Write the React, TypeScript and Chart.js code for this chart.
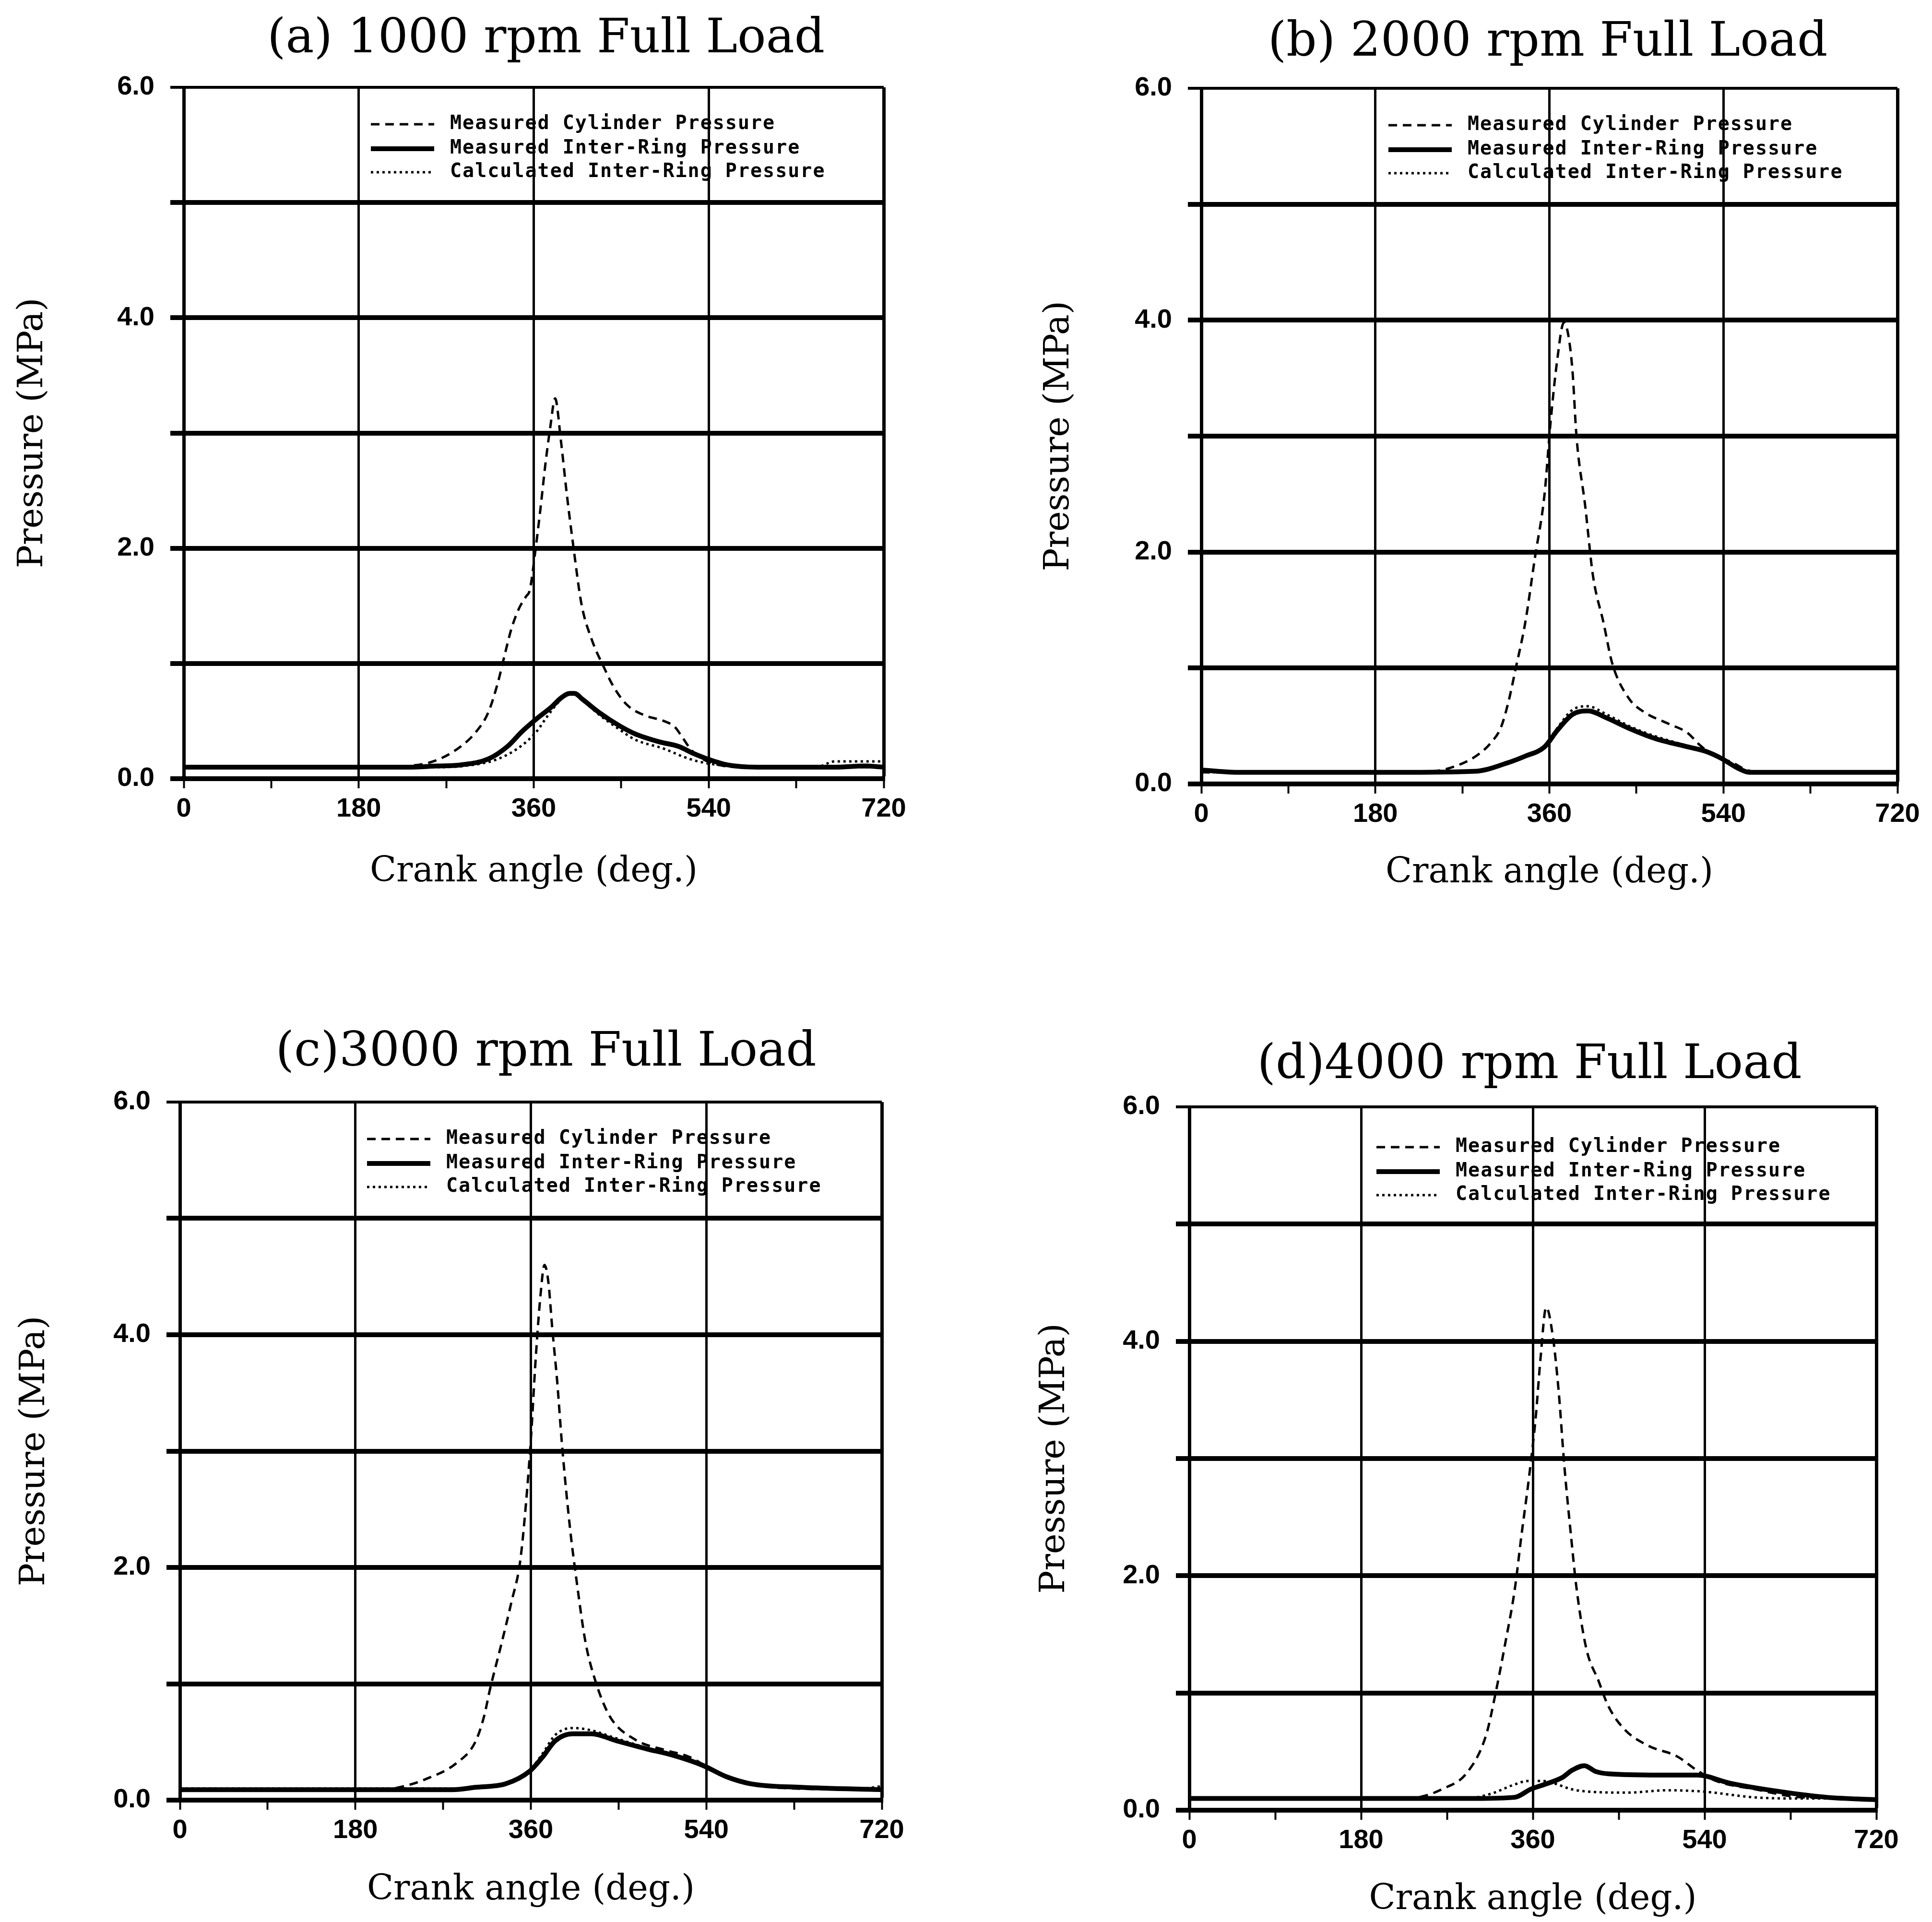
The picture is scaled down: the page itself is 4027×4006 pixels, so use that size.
import React, { useEffect, useRef } from "react";
import { Chart, registerables } from "chart.js";

Chart.register(...registerables);

// ---------------- data ----------------
const X_TICK_LABELS = [0, 180, 360, 540, 720];
const Y_TICK_LABELS = [0, 2, 4, 6];
const SERIES = [
  "Measured Cylinder Pressure",
  "Measured Inter-Ring Pressure",
  "Calculated Inter-Ring Pressure",
];
const TITLES = [
  "(a) 1000 rpm Full Load",
  "(b) 2000 rpm Full Load",
  "(c)3000 rpm Full Load",
  "(d)4000 rpm Full Load",
];
const X_TITLE = "Crank angle (deg.)";
const Y_TITLE = "Pressure (MPa)";

// [crank angle (deg), pressure (MPa)]
const cylinderA = [[0,0.1],[180,0.1],[230,0.11],[260,0.16],[285,0.28],[300,0.4],[313,0.57],[323,0.83],[330,1.07],[337,1.3],[345,1.48],[352,1.58],[356,1.64],[362,2.0],[367,2.35],[372,2.73],[377,3.05],[382,3.3],[388,2.93],[394,2.47],[401,2.0],[409,1.52],[420,1.2],[432,0.97],[442,0.8],[456,0.64],[474,0.55],[494,0.5],[505,0.45],[512,0.37],[522,0.25],[534,0.17],[550,0.12],[570,0.1],[720,0.1]];
const ringA = [[0,0.1],[230,0.1],[260,0.11],[285,0.12],[313,0.17],[333,0.28],[348,0.41],[363,0.52],[378,0.62],[388,0.7],[397,0.74],[402,0.74],[410,0.69],[428,0.57],[448,0.46],[464,0.39],[489,0.32],[509,0.28],[524,0.22],[539,0.17],[559,0.12],[590,0.1],[670,0.1],[700,0.11],[720,0.1]];
const calcA = [[0,0.1],[260,0.1],[288,0.11],[323,0.17],[348,0.29],[363,0.41],[373,0.53],[383,0.64],[392,0.72],[399,0.74],[410,0.68],[428,0.55],[446,0.44],[464,0.34],[494,0.26],[514,0.19],[529,0.15],[549,0.12],[580,0.1],[650,0.1],[670,0.15],[720,0.15]];

const cylinderB = [[0,0.1],[200,0.1],[240,0.11],[258,0.14],[284,0.24],[300,0.36],[310,0.49],[318,0.72],[325,0.99],[335,1.39],[345,1.95],[355,2.5],[361,3.1],[368,3.65],[375,3.98],[380,3.85],[384,3.55],[388,3.0],[397,2.4],[405,1.8],[416,1.39],[425,1.04],[442,0.74],[458,0.62],[483,0.52],[503,0.44],[515,0.34],[531,0.24],[548,0.19],[564,0.12],[580,0.1],[720,0.1]];
const ringB = [[0,0.12],[40,0.1],[200,0.1],[284,0.11],[316,0.18],[335,0.24],[355,0.32],[368,0.46],[384,0.6],[400,0.63],[419,0.57],[445,0.47],[470,0.39],[503,0.32],[522,0.28],[538,0.22],[554,0.14],[567,0.1],[720,0.1]];
const calcB = [[0,0.1],[284,0.11],[316,0.18],[335,0.24],[355,0.33],[368,0.48],[384,0.64],[400,0.67],[419,0.6],[445,0.49],[470,0.41],[503,0.33],[522,0.29],[538,0.22],[554,0.14],[567,0.1],[720,0.11]];

const cylinderC = [[0,0.08],[200,0.08],[230,0.12],[252,0.18],[284,0.32],[303,0.5],[312,0.72],[318,0.95],[330,1.35],[340,1.7],[349,2.05],[355,2.55],[360,3.1],[365,3.8],[370,4.35],[374,4.6],[378,4.45],[382,4.05],[387,3.6],[392,3.05],[400,2.35],[407,1.88],[416,1.36],[426,1.03],[441,0.72],[467,0.52],[498,0.43],[523,0.37],[542,0.28],[561,0.2],[590,0.13],[630,0.1],[720,0.09]];
const ringC = [[0,0.09],[200,0.09],[280,0.09],[303,0.11],[334,0.14],[359,0.25],[372,0.37],[385,0.51],[403,0.57],[422,0.57],[448,0.51],[479,0.44],[504,0.39],[536,0.3],[561,0.2],[586,0.14],[637,0.11],[720,0.09]];
const calcC = [[0,0.1],[280,0.1],[303,0.11],[334,0.14],[359,0.26],[372,0.4],[385,0.56],[403,0.62],[422,0.6],[448,0.53],[479,0.45],[504,0.4],[536,0.3],[561,0.2],[586,0.14],[637,0.11],[700,0.1],[720,0.12]];

const cylinderD = [[0,0.1],[220,0.1],[240,0.11],[265,0.18],[291,0.32],[311,0.64],[321,1.0],[331,1.42],[341,1.88],[348,2.34],[356,2.84],[363,3.35],[368,3.85],[374,4.29],[381,4.04],[387,3.58],[393,2.94],[400,2.34],[406,1.88],[416,1.38],[429,1.1],[439,0.89],[456,0.69],[481,0.55],[511,0.46],[532,0.34],[552,0.25],[592,0.18],[642,0.11],[720,0.1]];
const ringD = [[0,0.1],[200,0.1],[300,0.1],[341,0.11],[358,0.18],[376,0.23],[391,0.28],[401,0.34],[414,0.38],[426,0.33],[440,0.31],[492,0.3],[532,0.3],[567,0.23],[618,0.16],[668,0.11],[720,0.09]];
const calcD = [[0,0.1],[290,0.1],[316,0.14],[341,0.22],[355,0.25],[370,0.25],[382,0.23],[400,0.18],[416,0.16],[460,0.15],[500,0.17],[537,0.16],[592,0.11],[640,0.1],[720,0.1]];

const PANEL_DATA = [
  [cylinderA, ringA, calcA],
  [cylinderB, ringB, calcB],
  [cylinderC, ringC, calcC],
  [cylinderD, ringD, calcD],
];

// ---------------- layout (page pixels) ----------------
const FRAMES = [
  { left: 383, top: 182, right: 1842, bottom: 1623, titleX: 1138, titleY: 83, yTitleX: 69, xTitleY: 1818, legendDy: 0 },
  { left: 2504, top: 184, right: 3955, bottom: 1634, titleX: 3226, titleY: 90, yTitleX: 2208, xTitleY: 1820, legendDy: 0 },
  { left: 375, top: 2297, right: 1838, bottom: 3752, titleX: 1138, titleY: 2195, yTitleX: 73, xTitleY: 3940, legendDy: 0 },
  { left: 2479, top: 2307, right: 3911, bottom: 3773, titleX: 3188, titleY: 2221, yTitleX: 2199, xTitleY: 3960, legendDy: 7 },
];
const ML = 380;
const MT = 220;
const MB = 260;
const TITLE_SIZE = 99;
const AXIS_TITLE_SIZE = 72;

const STYLES = [
  { borderWidth: 5, borderDash: [18, 12] },
  { borderWidth: 10, borderDash: [] as number[] },
  { borderWidth: 5, borderDash: [5, 7] },
];

const insideLegend = {
  id: "insideLegend",
  afterDatasetsDraw(chart: any, _args: any, opts: any) {
    const { ctx, chartArea } = chart;
    ctx.save();
    chart.data.datasets.forEach((ds: any, i: number) => {
      const y = chartArea.top + opts.rows[i] + opts.dy;
      ctx.beginPath();
      ctx.setLineDash(ds.borderDash || []);
      ctx.lineWidth = ds.borderWidth;
      ctx.strokeStyle = ds.borderColor;
      ctx.moveTo(chartArea.left + opts.x0, y);
      ctx.lineTo(chartArea.left + opts.x1, y);
      ctx.stroke();
      ctx.setLineDash([]);
      ctx.font = "bold 40px 'DejaVu Sans Mono'";
      (ctx as any).letterSpacing = "2px";
      ctx.fillStyle = "#000";
      ctx.textAlign = "left";
      ctx.textBaseline = "middle";
      ctx.fillText(ds.label, chartArea.left + opts.tx, y);
    });
    ctx.restore();
  },
};

function Panel({ idx }: { idx: number }) {
  const ref = useRef<HTMLCanvasElement>(null);
  const f = FRAMES[idx];
  const W = f.right - f.left;
  const H = f.bottom - f.top;
  const cLeft = f.left - ML;
  const cTop = f.top - MT;
  // right-hand spacer so that the (full width) title is centred where the reference has it
  const MR = Math.max(80, 2 * (f.titleX - cLeft) - ML - W);
  const cw = ML + W + MR;
  const ch = MT + H + MB;

  useEffect(() => {
    const canvas = ref.current!;
    const titleLH = TITLE_SIZE * 1.2;
    const tPadTop = f.titleY - cTop - titleLH / 2;
    const tPadBottom = MT - titleLH - tPadTop;
    const axLH = AXIS_TITLE_SIZE * 1.2;
    const yPad = f.yTitleX - cLeft - axLH / 2;
    const xPad = cTop + ch - f.xTitleY - axLH / 2;
    const tickFont = { family: "'Liberation Sans'", size: 56, weight: "bold" as const };
    const axisFont = { family: "'DejaVu Serif'", size: AXIS_TITLE_SIZE, weight: "normal" as const };

    const chart = new Chart(canvas, {
      type: "line",
      data: {
        datasets: PANEL_DATA[idx].map((d, i) => ({
          label: SERIES[i],
          data: d as any,
          borderColor: "#000",
          backgroundColor: "#000",
          borderWidth: STYLES[i].borderWidth,
          borderDash: STYLES[i].borderDash,
          fill: false,
          pointRadius: 0,
          cubicInterpolationMode: "monotone" as const,
          xAxisID: "x",
          yAxisID: "y",
        })),
      },
      options: {
        responsive: false,
        animation: false,
        devicePixelRatio: 1,
        events: [],
        layout: { padding: 0 },
        plugins: {
          legend: { display: false },
          tooltip: { enabled: false },
          title: {
            display: true,
            text: TITLES[idx],
            color: "#000",
            font: { family: "'DejaVu Serif'", size: TITLE_SIZE, weight: "normal" },
            padding: { top: tPadTop, bottom: tPadBottom },
          },
          insideLegend: { x0: 390, x1: 522, tx: 555, rows: [77, 128, 177], dy: f.legendDy },
        } as any,
        scales: {
          x: {
            type: "linear",
            min: 0,
            max: 720,
            afterFit: (s: any) => { s.height = MB; },
            ticks: {
              stepSize: 90,
              autoSkip: false,
              maxRotation: 0,
              color: "#000",
              font: tickFont,
              padding: 10,
              callback: (v: any) => (X_TICK_LABELS.includes(Number(v)) ? String(v) : ""),
            },
            grid: {
              color: (c: any) => (c.tick && Number(c.tick.value) % 180 === 0 ? "#000" : "rgba(0,0,0,0)"),
              lineWidth: (c: any) => (c.tick && Number(c.tick.value) === 720 ? 7 : 5),
              tickColor: "#000",
              tickLength: 20,
              tickWidth: 4,
            },
            border: { color: "#000", width: 10 },
            title: { display: true, text: X_TITLE, color: "#000", font: axisFont, padding: { top: 0, bottom: xPad } },
          },
          y: {
            type: "linear",
            position: "left",
            min: 0,
            max: 6,
            afterFit: (s: any) => { s.width = ML; },
            ticks: {
              stepSize: 1,
              color: "#000",
              font: tickFont,
              padding: 33,
              callback: (v: any) => (Y_TICK_LABELS.includes(Number(v)) ? Number(v).toFixed(1) : ""),
            },
            grid: {
              color: "#000",
              lineWidth: (c: any) => (c.tick && Number(c.tick.value) === 6 ? 6 : 10),
              tickLength: 28,
            },
            border: { color: "#000", width: 7 },
            title: { display: true, text: Y_TITLE, color: "#000", font: axisFont, padding: { top: yPad, bottom: 0 } },
          },
          spacer: {
            type: "linear",
            position: "right",
            display: true,
            min: 0,
            max: 6,
            afterFit: (s: any) => { s.width = MR; },
            ticks: { display: false },
            grid: { display: false, drawTicks: false },
            border: { display: false },
            title: { display: false },
          },
        },
      },
      plugins: [insideLegend],
    } as any);
    return () => chart.destroy();
  }, []);

  return (
    <canvas
      ref={ref}
      width={cw}
      height={ch}
      style={{ position: "absolute", left: cLeft, top: cTop, width: cw, height: ch }}
    />
  );
}

export default function App() {
  return (
    <div
      style={{
        position: "absolute",
        left: 0,
        top: 0,
        width: 4027,
        height: 4006,
        overflow: "hidden",
        background: "#fff",
      }}
    >
      {[0, 1, 2, 3].map((i) => (
        <Panel key={i} idx={i} />
      ))}
    </div>
  );
}
